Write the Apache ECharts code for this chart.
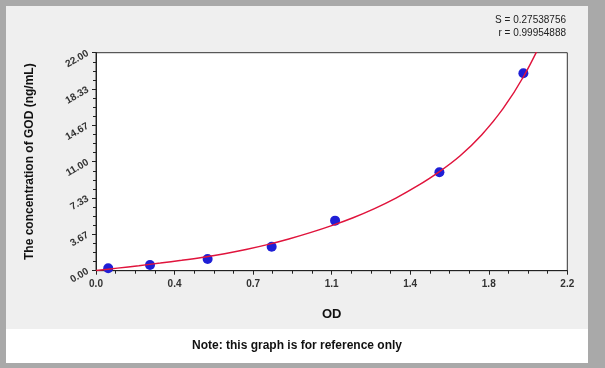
<!DOCTYPE html>
<html>
<head>
<meta charset="utf-8">
<script src="https://cdn.jsdelivr.net/npm/echarts@6/dist/echarts.min.js"></script>
<style>html,body{margin:0;padding:0;background:#a9a9a9;}#c{width:605px;height:368px;}</style>
</head>
<body>
<div id="c"></div>
<script>
// Standard points (OD vs concentration)
var pointOD = [0.057, 0.252, 0.521, 0.820, 1.116, 1.603, 1.995];
var pointConc = [0.24, 0.58, 1.18, 2.42, 5.05, 9.93, 19.92];
// Fitted curve
var curveOD = [0, 0.1, 0.2, 0.3, 0.4, 0.5, 0.6, 0.7, 0.8, 0.9, 1.0, 1.1, 1.2, 1.3, 1.4, 1.5, 1.6, 1.7, 1.8, 1.9, 2.0, 2.1];
var curveConc = [0.02, 0.26, 0.51, 0.77, 1.05, 1.36, 1.72, 2.14, 2.63, 3.2, 3.84, 4.55, 5.35, 6.27, 7.33, 8.55, 9.95, 11.6, 13.7, 16.35, 19.75, 24.0];
// Tick labels as printed on the reference
var xTickLabels = ['0.0', '0.4', '0.7', '1.1', '1.4', '1.8', '2.2'];
var yTickLabels = ['0.00', '3.67', '7.33', '11.00', '14.67', '18.33', '22.00'];
var xMax = 2.2, yMax = 22;
var statS = 'S = 0.27538756';
var statR = 'r = 0.99954888';
var xName = 'OD';
var yName = 'The concentration of GOD (ng/mL)';
var note = 'Note: this graph is for reference only';

var xSteps = xTickLabels.length - 1, ySteps = yTickLabels.length - 1;
var chart = echarts.init(document.getElementById('c'), null, {renderer: 'canvas'});
var font = 'Liberation Sans, Arial, sans-serif';
var option = {
  animation: false,
  backgroundColor: '#a9a9a9',
  graphic: [
    {type: 'rect', z: -10, silent: true, shape: {x: 6, y: 6, width: 582, height: 323}, style: {fill: '#efefef'}},
    {type: 'rect', z: -10, silent: true, shape: {x: 6, y: 329, width: 582, height: 34}, style: {fill: '#ffffff'}},
    {type: 'text', z: 10, x: 566, y: 20, style: {text: statS, font: '10px ' + font, fill: '#222', textAlign: 'right', textVerticalAlign: 'middle'}},
    {type: 'text', z: 10, x: 566, y: 33, style: {text: statR, font: '10px ' + font, fill: '#222', textAlign: 'right', textVerticalAlign: 'middle'}},
    {type: 'text', z: 10, x: 297, y: 346, style: {text: note, font: 'bold 12px ' + font, fill: '#111', textAlign: 'center', textVerticalAlign: 'middle'}}
  ],
  grid: {left: 96, top: 52.7, right: 37.7, bottom: 97.3, show: true, backgroundColor: '#ffffff', borderColor: '#333', borderWidth: 1},
  xAxis: {
    type: 'value', min: 0, max: xMax, interval: xMax / xSteps,
    name: xName, nameLocation: 'middle', nameGap: 37,
    nameTextStyle: {fontFamily: font, fontWeight: 'bold', fontSize: 13, color: '#111'},
    axisLine: {lineStyle: {color: '#222', width: 1}},
    axisTick: {show: true, length: 4, lineStyle: {color: '#222'}},
    minorTick: {show: true, splitNumber: 4, length: 3, lineStyle: {color: '#222'}},
    splitLine: {show: false},
    axisLabel: {fontFamily: font, fontSize: 10, fontWeight: 'bold', color: '#333', margin: 9,
      formatter: function (v) { return xTickLabels[Math.round(v / (xMax / xSteps))]; }}
  },
  yAxis: {
    type: 'value', min: 0, max: yMax, interval: yMax / ySteps,
    name: yName, nameLocation: 'middle', nameGap: 60, nameRotate: 90,
    nameTextStyle: {fontFamily: font, fontWeight: 'bold', fontSize: 12, color: '#111'},
    axisLine: {show: true, lineStyle: {color: '#222', width: 1}},
    axisTick: {show: true, length: 4, lineStyle: {color: '#222'}},
    minorTick: {show: true, splitNumber: 4, length: 3, lineStyle: {color: '#222'}},
    splitLine: {show: false},
    axisLabel: {fontFamily: font, fontSize: 10, fontWeight: 'bold', color: '#333', rotate: 30, margin: 8,
      formatter: function (v) { return yTickLabels[Math.round(v / (yMax / ySteps))]; }}
  },
  series: [
    {
      type: 'scatter', symbol: 'circle', symbolSize: 10, z: 2,
      itemStyle: {color: '#1f1fd6', opacity: 1},
      data: pointOD.map(function (x, i) { return [x, pointConc[i]]; })
    },
    {
      type: 'line', smooth: 0.3, symbol: 'none', clip: true, z: 3,
      lineStyle: {color: '#e0143c', width: 1.5},
      data: curveOD.map(function (x, i) { return [x, curveConc[i]]; })
    }
  ]
};
chart.setOption(option);
</script>
</body>
</html>
